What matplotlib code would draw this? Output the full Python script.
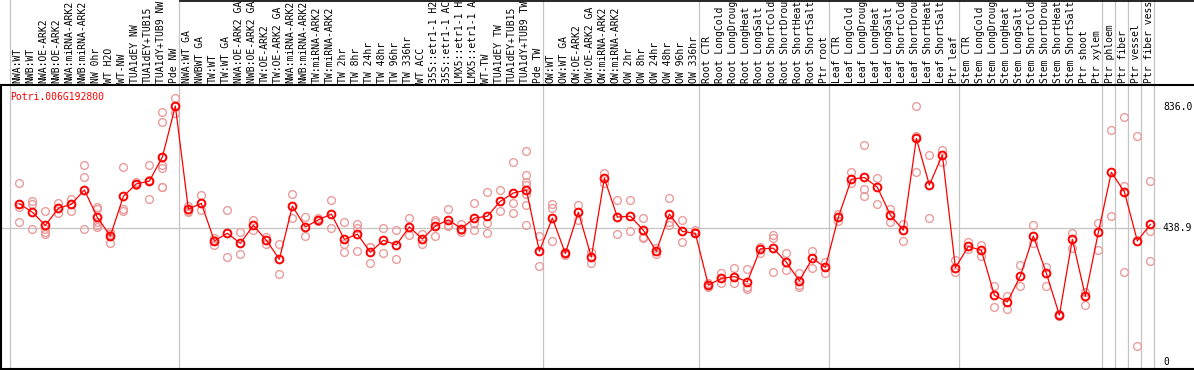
import matplotlib
matplotlib.use("Agg")
import matplotlib.pyplot as plt

# ---------------------------------------------------------------
# data
# ---------------------------------------------------------------
gene = "Potri.006G192800"

samples = [
    "NWA:WT", "NWB:WT", "NWA:OE-ARK2", "NWB:OE-ARK2", "NWA:miRNA-ARK2", "NWB:miRNA-ARK2",
    "NW 0hr", "WT H2O", "WT-NW", "TUA1dEY NW", "TUA1dEY+TUB15", "TUA1dY+TUB9 NW", "Pde NW",
    "NWA:WT GA", "NWBWT GA", "TW:WT", "TW:WT GA", "NWA:OE-ARK2 GA", "NWB:OE-ARK2 GA",
    "TW:OE-ARK2", "TW:OE-ARK2 GA", "NWA:miRNA-ARK2", "NWB:miRNA-ARK2", "TW:miRNA-ARK2",
    "TW:miRNA-ARK2", "TW 2hr", "TW 8hr", "TW 24hr", "TW 48hr", "TW 96hr", "TW 336hr",
    "WT ACC", "35S::etr1-1 H2", "35S::etr1-1 AC", "LMX5::etr1-1 H", "LMX5::etr1-1 A",
    "WT-TW", "TUA1dEY TW", "TUA1dEY+TUB15", "TUA1dY+TUB9 TW", "Pde TW",
    "OW:WT", "OW:WT GA", "OW:OE-ARK2", "OW:OE-ARK2 GA", "OW:miRNA-ARK2", "OW:miRNA-ARK2",
    "OW 2hr", "OW 8hr", "OW 24hr", "OW 48hr", "OW 96hr", "OW 336hr",
    "Root CTR", "Root LongCold", "Root LongDroug", "Root LongHeat", "Root LongSalt",
    "Root ShortCold", "Root ShortDrou", "Root ShortHeat", "Root ShortSalt", "Ptr root",
    "Leaf CTR", "Leaf LongCold", "Leaf LongDroug", "Leaf LongHeat", "Leaf LongSalt",
    "Leaf ShortCold", "Leaf ShortDrou", "Leaf ShortHeat", "Leaf ShortSalt", "Ptr leaf",
    "Stem CTR", "Stem LongCold", "Stem LongDroug", "Stem LongHeat", "Stem LongSalt",
    "Stem ShortCold", "Stem ShortDrou", "Stem ShortHeat", "Stem ShortSalt", "Ptr shoot",
    "Ptr xylem", "Ptr phloem", "Ptr fiber", "Ptr vessel", "Ptr fiber vess",
]

# group separators (index of first sample after a boundary)
group_breaks = [0, 13, 41, 53, 63, 73, 84, 85, 86, 87, 88]

means = [
    518, 490, 447, 503, 516, 563, 473, 412, 542, 583, 592, 671, 838,
    500, 519, 396, 421, 388, 447, 398, 336, 510, 442, 465, 484, 401, 418, 359,
    398, 383, 442, 402, 445, 465, 436, 471, 477, 526, 553, 563, 362,
    471, 355, 490, 343, 601, 474, 477, 431, 362, 484, 427, 421,
    251, 273, 279, 262, 370, 372, 326, 265, 339, 309,
    474, 598, 604, 572, 481, 431, 732, 579, 678, 308,
    378, 365, 218, 196, 281, 412, 290, 153, 401, 215, 424,
    621, 557, 396, 450,
]

replicates = [
    [585, 518, 508, 459], [527, 516, 434], [494, 434, 426, 419], [521, 486], [535, 516, 495],
    [644, 604, 434], [508, 501, 459, 448, 443], [426, 419, 388], [637, 500, 493], [588, 578],
    [644, 596, 532], [820, 787, 672, 645, 634, 574, 572], [865, 814, 838],
    [510, 495, 492], [547, 497], [405, 400, 381], [497, 342], [426, 353], [465, 432],
    [410, 386], [386, 288], [549, 470], [475, 412], [470, 460], [530, 438],
    [457, 386, 361], [451, 439, 362], [377, 324, 375], [438, 356], [432, 337],
    [471, 414], [418, 386], [465, 459, 412], [501, 446, 448], [451, 432, 426],
    [520, 454, 432], [556, 456, 421], [563, 493], [655, 519, 487],
    [691, 612, 588, 579, 549, 514, 448], [412, 314],
    [517, 503, 396], [360, 350], [514, 465], [361, 323], [620, 585], [530, 419],
    [530, 427], [470, 410, 405], [372, 352], [537, 459, 448], [465, 391], [425, 432],
    [259, 244], [292, 257], [306, 259], [303, 246, 238], [377, 355], [415, 405, 294],
    [355, 300], [290, 251, 246], [363, 306], [328, 292],
    [484, 462], [623, 585], [709, 566, 542], [601, 517], [500, 459],
    [453, 396], [838, 740, 622], [677, 471], [694, 656], [333, 295],
    [394, 368], [383, 348], [248, 178], [215, 174], [317, 248], [448, 388],
    [312, 248], [155, 150], [421, 372], [230, 186], [456, 366],
    [758, 479], [801, 576, 295], [739, 52], [592, 430, 329],
]

ytick_vals = [836.0, 438.9, 0]
ytick_text = ["836.0", "438.9", "0"]

# ---------------------------------------------------------------
# figure
# ---------------------------------------------------------------
W, H = 1194, 370
fig = plt.figure(figsize=(W / 100, H / 100), dpi=100)

# plot box in pixels: x 1..1194, y 85..369
ax = fig.add_axes([1 / W, (H - 369) / H, (W - 1) / W, (369 - 85) / H])
ax.set_xlim((1 - 10) / 13, (W - 10) / 13)
ax.set_ylim(-23.9, 907.1)
ax.set_xticks([])
ax.set_yticks([])
ax.patch.set_alpha(0)
ax.spines["right"].set_visible(False)
for s in ["left", "bottom", "top"]:
    ax.spines[s].set_linewidth(1.5)
    ax.spines[s].set_color("black")

mono = "DejaVu Sans Mono"
grey = "#c4c4c4"

# vertical separators reach up through the label area
for b in group_breaks:
    ax.axvline(b, ymin=0, ymax=369 / 284, color=grey, lw=0.9, clip_on=False, zorder=1)

ax.axhline(438.9, xmin=0, xmax=(1160 - 1) / (W - 1), color=grey, lw=0.9, zorder=1)

# top border over the label area
fig.add_artist(plt.Line2D([180 / W, 1], [1 - 0.5 / H, 1 - 0.5 / H], color="black", lw=1.2))

# replicates
for i, reps in enumerate(replicates):
    ax.plot([i + 0.72] * len(reps), reps, linestyle="none", marker="o", ms=5.6,
            mfc="none", mec="#eb9c9c", mew=1.0, zorder=2, clip_on=False)

# mean line
xs = [i + 0.72 for i in range(len(means))]
ax.plot(xs, means, color="red", lw=0.9, marker="o", ms=5.6, mfc="none",
        mec="red", mew=1.4, zorder=3)

# sample labels
for i, name in enumerate(samples):
    ax.text(i + 0.6, 1.007, name, transform=ax.get_xaxis_transform(), rotation=90,
            ha="center", va="bottom", fontsize=7.0, family=mono, clip_on=False)

# value labels on the right
for v, t in zip(ytick_vals, ytick_text):
    ax.text((1163 - 10) / 13, v, t, ha="left", va="center", fontsize=7.0, family=mono)

ax.text(0, 868, gene, color="red", ha="left", va="center", fontsize=7.0, family=mono)

fig.savefig("out.png", dpi=100)
